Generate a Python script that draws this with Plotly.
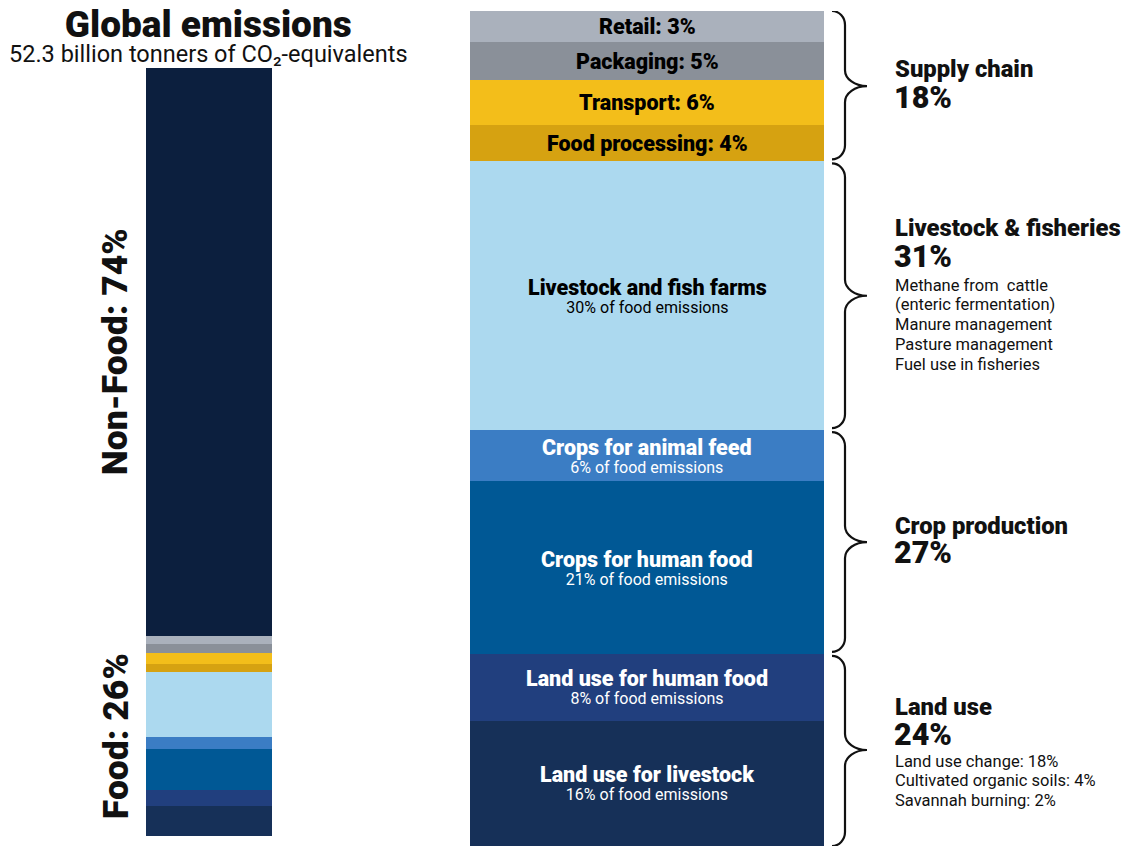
import plotly.graph_objects as go

W, H = 1123, 846

# ---------------- data ----------------
categories = ["Land use for livestock", "Land use for human food", "Crops for human food",
              "Crops for animal feed", "Livestock and fish farms", "Food processing",
              "Transport", "Packaging", "Retail"]
shares = [15.0, 8.0, 20.7, 6.1, 32.2, 4.3, 5.4, 4.6, 3.7]          # bar heights (% of food)
label_pct = [16, 8, 21, 6, 30, 4, 6, 5, 3]                           # printed percentages
colors = ["#163058", "#213f7e", "#005895", "#3b7dc4", "#acd9ef",
          "#d6a211", "#f3be1a", "#8a9099", "#aab1bc"]
text_colors = ["white", "white", "white", "white", "black", "black", "black", "black", "black"]

non_food_share = 74
food_share = 26

groups = ["Land use", "Crop production", "Livestock & fisheries", "Supply chain"]
group_pct = [24, 27, 31, 18]
group_members = [[0, 1], [2, 3], [4], [5, 6, 7, 8]]
group_details = {
    "Livestock & fisheries": ["Methane from  cattle", "(enteric fermentation)",
                              "Manure management", "Pasture management", "Fuel use in fisheries"],
    "Land use": ["Land use change: 18%", "Cultivated organic soils: 4%", "Savannah burning: 2%"],
}

FONT = "Roboto"
INK = "#111111"


def px_x(p):
    return p / W


def px_y(p):
    return 1 - p / H


fig = go.Figure()

# ---------------- left bar: global emissions ----------------
total_food = sum(shares)
for cat, s, c in zip(categories, shares, colors):
    fig.add_trace(go.Bar(x=[0], y=[food_share * s / total_food], width=[1], marker_color=c,
                         marker_line_width=0, name=cat, xaxis="x", yaxis="y",
                         hoverinfo="name"))
fig.add_trace(go.Bar(x=[0], y=[non_food_share], width=[1], marker_color="#0c1f3e",
                     marker_line_width=0, name="Non-Food", xaxis="x", yaxis="y",
                     hoverinfo="name"))

# ---------------- right bar: food emissions ----------------
for cat, s, c in zip(categories, shares, colors):
    fig.add_trace(go.Bar(x=[0], y=[s], width=[1], marker_color=c, marker_line_width=0,
                         name=cat, xaxis="x2", yaxis="y2", hoverinfo="name"))

annotations = []
shapes = []

# segment labels
cum = 0
for i, (cat, s) in enumerate(zip(categories, shares)):
    mid = cum + s / 2
    cum += s
    tc = text_colors[i]
    if i >= 5:
        annotations.append(dict(x=0, y=mid, xref="x2", yref="y2", showarrow=False,
                                xanchor="center", yanchor="middle",
                                text=f"{cat}: {label_pct[i]}%",
                                font=dict(family=FONT, size=21.5, color=tc, weight=900)))
    else:
        txt = (f"<span style='font-size:21.5px;font-weight:900'>{cat}</span><br>"
               f"<span style='font-size:16px'>{label_pct[i]}% of food emissions</span>")
        annotations.append(dict(x=0, y=mid, xref="x2", yref="y2", showarrow=False,
                                xanchor="center", yanchor="middle", text=txt,
                                font=dict(family=FONT, size=14, color=tc)))

# braces
u = total_food / 835.0
x0, x1, x2 = px_x(832), px_x(845), px_x(867)
k = 0.55
bounds = []
c0 = 0
for members in group_members:
    seg = sum(shares[m] for m in members)
    bounds.append((c0, c0 + seg))
    c0 += seg
for (lo, hi) in bounds:
    top = hi - 2 * u if hi < total_food - 1e-9 else hi
    bot = lo + 2 * u if lo > 0 else lo
    mid = (lo + hi) / 2
    de = 14 * u
    dm = 16 * u
    p = (f"M {x0},{top} "
         f"C {x0 + k * (x1 - x0)},{top} {x1},{top - de + k * de} {x1},{top - de} "
         f"L {x1},{mid + dm} "
         f"C {x1},{mid + dm - k * dm} {x2 - k * (x2 - x1)},{mid} {x2},{mid} "
         f"C {x2 - k * (x2 - x1)},{mid} {x1},{mid - dm + k * dm} {x1},{mid - dm} "
         f"L {x1},{bot + de} "
         f"C {x1},{bot + de - k * de} {x0 + k * (x1 - x0)},{bot} {x0},{bot}")
    shapes.append(dict(type="path", path=p, xref="paper", yref="y2",
                       line=dict(color=INK, width=2.2)))

# group labels (pixel positions of title line, percentage line, first detail line)
group_pos = {
    "Supply chain": (69, 97, None),
    "Livestock & fisheries": (228, 256, 285),
    "Crop production": (526, 552, None),
    "Land use": (707, 734, 761),
}
for g, pct in zip(groups, group_pct):
    ty, py, dy = group_pos[g]
    annotations.append(dict(x=px_x(893), y=px_y(ty), xref="paper", yref="paper", showarrow=False,
                            xanchor="left", yanchor="middle", text=g,
                            font=dict(family=FONT, size=23.8, color=INK, weight=900)))
    annotations.append(dict(x=px_x(892), y=px_y(py), xref="paper", yref="paper", showarrow=False,
                            xanchor="left", yanchor="middle", text=f"{pct}%",
                            font=dict(family=FONT, size=30.5, color=INK, weight=900)))
    if dy is not None:
        for j, line in enumerate(group_details[g]):
            annotations.append(dict(x=px_x(893), y=px_y(dy + 19.8 * j), xref="paper",
                                    yref="paper", showarrow=False, xanchor="left",
                                    yanchor="middle", text=line,
                                    font=dict(family=FONT, size=16.5, color=INK)))

# titles
title_txt = ("<span style='font-size:37px;font-weight:900'>Global emissions</span><br>"
             "<span style='font-size:23.5px'>52.3 billion tonners of CO₂-equivalents</span>")
annotations.append(dict(x=px_x(208.5), y=px_y(36), xref="paper", yref="paper", showarrow=False,
                        xanchor="center", yanchor="middle", align="center", text=title_txt,
                        font=dict(family=FONT, size=19.5, color=INK)))

# rotated share labels
nf_mid = food_share + non_food_share / 2
annotations.append(dict(x=px_x(115), y=nf_mid, xref="paper", yref="y", showarrow=False,
                        xanchor="center", yanchor="middle",
                        textangle=-90, text=f"Non-Food: {non_food_share}%",
                        font=dict(family=FONT, size=35.5, color=INK, weight=900)))
annotations.append(dict(x=px_x(116), y=food_share / 2, xref="paper", yref="y", showarrow=False,
                        xanchor="center", yanchor="middle",
                        textangle=-90, text=f"Food: {food_share}%",
                        font=dict(family=FONT, size=35.5, color=INK, weight=900)))

hidden = dict(visible=False, showgrid=False, zeroline=False, fixedrange=True)
fig.update_layout(
    width=W, height=H,
    margin=dict(l=0, r=0, t=0, b=0),
    paper_bgcolor="white", plot_bgcolor="white",
    barmode="stack", bargap=0, showlegend=False,
    xaxis=dict(domain=[px_x(146), px_x(272)], range=[-0.5, 0.5], **hidden),
    yaxis=dict(domain=[px_y(836), px_y(68)], range=[0, non_food_share + food_share], **hidden),
    xaxis2=dict(domain=[px_x(470), px_x(824)], range=[-0.5, 0.5], anchor="y2", **hidden),
    yaxis2=dict(domain=[0, px_y(11)], range=[0, total_food], anchor="x2", **hidden),
    annotations=annotations,
    shapes=shapes,
)

fig.write_html("out.html")
